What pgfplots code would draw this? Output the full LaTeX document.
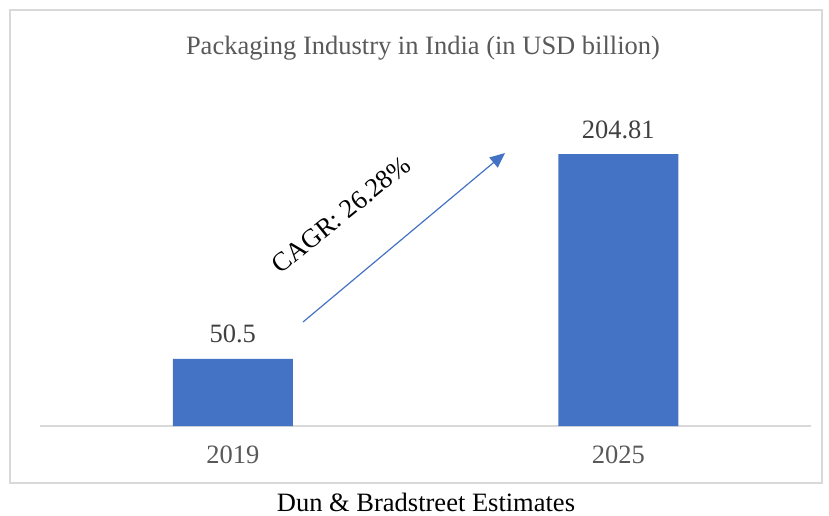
\documentclass[border=0pt]{standalone}
\usepackage{pgfplots}
\pgfplotsset{compat=1.18}
\usetikzlibrary{arrows.meta}
\usepackage{fontspec}
\setmainfont{Liberation Serif}
\definecolor{barblue}{HTML}{4472C4}
\definecolor{txtgray}{HTML}{595959}
\definecolor{lblgray}{HTML}{404040}
\definecolor{framegray}{HTML}{D9D9D9}
\begin{document}
\fontsize{26.5}{30}\selectfont
\begin{tikzpicture}[x=1pt,y=1pt]
\useasboundingbox (0,0) rectangle (829,515);
% chart frame
\draw[framegray, line width=1.3pt] (10,505) rectangle (822,32);
\node[txtgray, anchor=base] at (423,460) {Packaging Industry in India (in USD billion)};
\node[anchor=base, inner sep=0pt] at (426,4) {Dun \& Bradstreet Estimates};
\begin{axis}[
  at={(40pt,89pt)}, anchor=south west,
  scale only axis, width=771pt, height=332pt,
  xmin=-0.5, xmax=1.5, ymin=0, ymax=250,
  axis x line*=bottom, axis y line=none,
  x axis line style={-, draw=framegray, line width=1.3pt},
  xtick={0,1}, xticklabels={2019,2025},
  major tick length=0pt,
  xticklabel style={txtgray, anchor=base, yshift=-37pt},
  ybar, bar width=120pt,
  nodes near coords, point meta=explicit symbolic,
  nodes near coords style={lblgray, anchor=base, yshift=16pt},
]
\addplot[fill=barblue, draw=none] table[meta=label] {
x y label
0 50.5 50.5
1 204.81 204.81
};
\end{axis}
% CAGR arrow and label
\draw[barblue, line width=1.2pt, -{Triangle[length=15pt,width=13pt]}] (303,193) -- (505,362);
\node[rotate=39] at (341,300) {CAGR: 26.28\%};
\end{tikzpicture}
\end{document}
